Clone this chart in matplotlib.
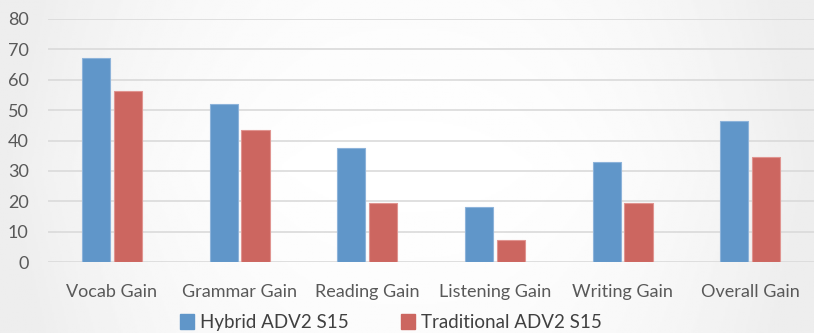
import matplotlib
matplotlib.use('Agg')
import numpy as np
import matplotlib.pyplot as plt
from matplotlib.patches import Patch

categories = ['Vocab Gain', 'Grammar Gain', 'Reading Gain', 'Listening Gain',
              'Writing Gain', 'Overall Gain']
hybrid = [67.0, 52.0, 37.4, 18.2, 32.8, 46.3]
traditional = [56.4, 43.4, 19.6, 7.2, 19.5, 34.5]
series_names = ['Hybrid ADV2 S15', 'Traditional ADV2 S15']

plt.rcParams['font.family'] = ['Lato', 'DejaVu Sans']

fig = plt.figure(figsize=(8.14, 3.33), dpi=100)

# soft gray background, brighter toward the middle
bg = fig.add_axes([0, 0, 1, 1], zorder=-1)
xx = np.linspace(-1, 1, 400)
yy = np.linspace(-1, 1, 200)
X, Y = np.meshgrid(xx, yy)
shade = 1.0 - 0.07 * np.clip(np.abs(X) ** 2.5 + 0.2 * np.abs(Y), 0, 1)
bg.imshow(shade, cmap='gray', vmin=0, vmax=1, aspect='auto', extent=[0, 1, 0, 1])
bg.axis('off')

ax = fig.add_axes([0.059, 0.213, 0.941, 0.73])
ax.patch.set_alpha(0)

x = np.arange(len(categories))
w = 0.22
gap = 0.03
blue = '#6096C9'
red = '#CC6660'
ax.bar(x - (w + gap) / 2, hybrid, w, color=blue, edgecolor='#8DB3DA', linewidth=0.8, zorder=3)
ax.bar(x + (w + gap) / 2, traditional, w, color=red, edgecolor='#E09490', linewidth=0.8, zorder=3)

ax.set_ylim(0, 80)
ax.set_xlim(-0.5, len(categories) - 0.5)
ax.set_yticks(range(0, 81, 10))
ax.set_xticks(x)
ax.set_xticklabels(categories)
ax.yaxis.grid(True, color='#DADADA', linewidth=1.2, zorder=0)
for s in ax.spines.values():
    s.set_visible(False)
ax.tick_params(axis='both', length=0, labelsize=13, colors='#595959')
ax.tick_params(axis='x', pad=16)
ax.tick_params(axis='y', pad=14)

handles = [Patch(color=blue), Patch(color=red)]
fig.legend(handles, series_names, loc='lower center', bbox_to_anchor=(0.48, -0.045),
           ncol=2, frameon=False, fontsize=13.5, handlelength=0.75, handleheight=0.85,
           handletextpad=0.3, columnspacing=2.8, labelcolor='#404040')

fig.savefig('out.png', dpi=100)
